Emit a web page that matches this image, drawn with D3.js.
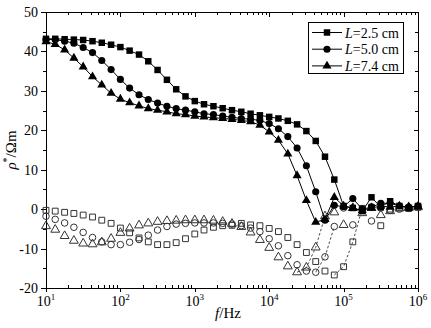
<!DOCTYPE html>
<html>
<head>
<meta charset="utf-8">
<script src="https://cdn.jsdelivr.net/npm/d3@7"></script>
<style>
  html, body { margin: 0; padding: 0; background: #fff; }
  svg { display: block; font-family: "Liberation Serif", "DejaVu Serif", serif; }
</style>
</head>
<body>
<div id="chart"></div>
<script>
// frequencies (Hz), 8 points per decade
const freqs = [10, 13.3, 17.8, 23.7, 31.6, 42.2, 56.2, 75, 100, 133, 178, 237, 316, 422, 562, 750,
  1e3, 1330, 1780, 2370, 3160, 4220, 5620, 7500, 1e4, 13300, 17800, 23700, 31600, 42200, 56200, 75000,
  1e5, 133000, 178000, 237000, 316000, 422000, 562000, 750000, 1e6];

// filled markers (real part)
const real25 = [43.2, 43.2, 43.1, 43.0, 42.9, 42.6, 42.2, 41.7, 41.1, 40.2, 39.2, 37.5, 35.3, 32.8, 30.4, 28.6, 27.4, 26.6, 26.1,
  25.6, 25.1, 24.7, 24.2, 23.8, 23.4, 23.0, 22.4, 21.5, 19.8, 17.3, 13.3, 7.5,
  0.8, 0.3, -0.5, 3.0, 0.5, 2.0, 0.8, 0.3, 0.8];
const real50 = [43.0, 43.0, 42.6, 42.1, 41.0, 39.7, 37.7, 35.4, 32.9, 30.7, 29.0, 27.8, 26.9, 26.1, 25.5, 25.1, 24.7, 24.2, 24.0,
  23.6, 23.3, 23.0, 22.8, 22.5, 21.7, 20.4, 18.4, 15.5, 11.0, 4.4, -2.8, 1.0,
  0.6, 2.7, 0.0, 0.5, 1.5, 1.5, 0.8, 0.5, 0.8];
const real74 = [42.5, 41.8, 40.4, 38.3, 36.1, 33.6, 31.5, 29.4, 27.9, 27.0, 26.2, 25.5, 25.1, 24.7, 24.2, 24.0, 23.6, 23.4, 23.2,
  23.0, 22.8, 22.5, 22.2, 21.3, 19.6, 17.5, 14.0, 8.5, 2.2, -3.3, -2.6, 3.0,
  0.8, 0.2, -0.3, 0.3, 0.8, 0.5, 0.8, 0.6, 0.7];

// open markers (imaginary part)
const imag25 = [-0.3, -0.5, -0.8, -1.1, -1.5, -2.0, -2.8, -3.6, -4.8, -6.0, -7.3, -8.3, -9.0, -9.0, -8.5, -7.5, -6.3, -5.3, -4.6, -4.2, -4.1,
  -3.6, -4.0, -4.2, -4.9, -5.7, -7.2, -9.0, -11.0, -13.3, -15.7, -16.7, -14.6, -8.3, 0.2, 0.5, -4.2, 0.0, 0.3, 0.2, 0.5];
const imag50 = [-1.8, -2.6, -3.5, -4.6, -5.9, -7.2, -8.3, -9.0, -9.0, -8.4, -7.7, -6.6, -5.3, -4.4, -3.8, -3.6, -3.5, -3.5, -3.5, -3.6, -3.8,
  -4.2, -4.8, -5.7, -7.5, -9.3, -11.8, -14.1, -15.7, -16.0, -12.1, -4.4, 0.3, -4.0, 0.0, -3.0, 0.3, -0.3, 0.0, 0.2, 0.5];
const imag74 = [-4.3, -5.2, -6.8, -8.0, -8.7, -8.9, -8.4, -7.5, -6.0, -4.9, -4.1, -3.6, -3.2, -3.0, -2.9, -2.8, -2.8, -2.8, -2.9, -3.2, -3.7,
  -4.5, -5.9, -7.8, -9.8, -12.2, -14.5, -16.0, -14.8, -9.7, -1.8, -0.8, -4.0, 0.3, -1.0, 0.3, -1.5, -0.5, 0.2, 0.3, 0.5];

// index range of the dashed connectors on the open series
const dash25 = [31, 34];
const dash50 = [29, 31];
const dash74 = [27, 30];

const legendLabels = ["=2.5 cm", "=5.0 cm", "=7.4 cm"];
const yTicks = [50, 40, 30, 20, 10, 0, -10, -20];
const xDecades = [1, 2, 3, 4, 5, 6];

const W = 431, H = 328;
const m = { left: 46, right: 13, top: 12, bottom: 40 };

const svg = d3.select("#chart").append("svg").attr("width", W).attr("height", H);

const x = d3.scaleLog().domain([10, 1e6]).range([m.left, W - m.right]);
const y = d3.scaleLinear().domain([-20, 50]).range([H - m.bottom, m.top]);

const x0 = m.left, x1 = W - m.right, y0 = H - m.bottom, y1 = m.top;

// ticks
const tickG = svg.append("g").attr("stroke", "#000").attr("stroke-width", 1);
const minorX = [];
for (let d = 1; d < 6; d++) {
  for (let k = 2; k <= 9; k++) minorX.push(k * Math.pow(10, d));
}
for (const v of xDecades.map((d) => Math.pow(10, d))) {
  const px = Math.round(x(v)) + 0.5;
  tickG.append("line").attr("x1", px).attr("x2", px).attr("y1", y0).attr("y2", y0 + 4);
  tickG.append("line").attr("x1", px).attr("x2", px).attr("y1", y1).attr("y2", y1 + 5);
}
for (const v of minorX) {
  const px = Math.round(x(v)) + 0.5;
  tickG.append("line").attr("x1", px).attr("x2", px).attr("y1", y0).attr("y2", y0 - 3);
  tickG.append("line").attr("x1", px).attr("x2", px).attr("y1", y1).attr("y2", y1 + 3);
}
for (const v of d3.range(-20, 51, 5)) {
  const py = Math.round(y(v)) + 0.5;
  const major = v % 10 === 0;
  tickG.append("line").attr("x1", x0).attr("x2", x0 - (major ? 5 : 3)).attr("y1", py).attr("y2", py);
  tickG.append("line").attr("x1", x1).attr("x2", x1 - (major ? 4 : 3)).attr("y1", py).attr("y2", py);
}

// frame
svg.append("rect")
  .attr("x", x0 + 0.5).attr("y", y1 + 0.5)
  .attr("width", x1 - x0).attr("height", y0 - y1)
  .attr("fill", "none").attr("stroke", "#000").attr("stroke-width", 1);

// tick labels
svg.append("g").selectAll("text").data(yTicks).join("text")
  .attr("x", x0 - 8).attr("y", (d) => y(d) + 5)
  .attr("text-anchor", "end").attr("font-size", 14)
  .text((d) => d);

const xl = svg.append("g").selectAll("text").data(xDecades).join("text")
  .attr("x", (d) => x(Math.pow(10, d))).attr("y", y0 + 18)
  .attr("text-anchor", "middle").attr("font-size", 14);
xl.append("tspan").text("10");
xl.append("tspan").attr("font-size", 9).attr("dy", -6).text((d) => d);

// axis titles
const xt = svg.append("text").attr("x", 228).attr("y", 318).attr("text-anchor", "middle").attr("font-size", 15);
xt.append("tspan").attr("font-style", "italic").text("f");
xt.append("tspan").text("/Hz");

const yt = svg.append("text").attr("transform", `translate(16,${(y0 + y1) / 2}) rotate(-90)`)
  .attr("text-anchor", "middle").attr("font-size", 15);
yt.append("tspan").attr("font-style", "italic").text("ρ");
yt.append("tspan").attr("font-size", 10).attr("dy", -6).text("*");
yt.append("tspan").attr("dy", 6).text("/Ωm");

// series
const sym = {
  square: d3.symbol().type(d3.symbolSquare).size(42),
  circle: d3.symbol().type(d3.symbolCircle).size(40),
  triangle: d3.symbol().type(d3.symbolTriangle).size(36),
};
const openSym = {
  square: d3.symbol().type(d3.symbolSquare).size(34),
  circle: d3.symbol().type(d3.symbolCircle).size(34),
  triangle: d3.symbol().type(d3.symbolTriangle).size(34),
};

const line = d3.line().x((d) => x(d[0])).y((d) => y(d[1]));
const zip = (vals) => vals.map((v, i) => [freqs[i], v]);

const plot = svg.append("g");

const openSeries = [
  { vals: imag25, shape: "square", dash: dash25 },
  { vals: imag50, shape: "circle", dash: dash50 },
  { vals: imag74, shape: "triangle", dash: dash74 },
];
for (const s of openSeries) {
  const pts = zip(s.vals);
  plot.append("path").datum(pts.slice(s.dash[0], s.dash[1] + 1))
    .attr("d", line).attr("fill", "none").attr("stroke", "#333")
    .attr("stroke-width", 0.9).attr("stroke-dasharray", "2.5,2");
}
for (const s of openSeries) {
  plot.append("g").selectAll("path").data(zip(s.vals)).join("path")
    .attr("transform", (d) => `translate(${x(d[0])},${y(d[1])})`)
    .attr("d", openSym[s.shape]())
    .attr("fill", "none").attr("stroke", "#333").attr("stroke-width", 1);
}

const filledSeries = [
  { vals: real25, shape: "square" },
  { vals: real50, shape: "circle" },
  { vals: real74, shape: "triangle" },
];
for (const s of filledSeries) {
  plot.append("path").datum(zip(s.vals))
    .attr("d", line).attr("fill", "none").attr("stroke", "#000").attr("stroke-width", 1);
  plot.append("g").selectAll("path").data(zip(s.vals)).join("path")
    .attr("transform", (d) => `translate(${x(d[0])},${y(d[1])})`)
    .attr("d", sym[s.shape]())
    .attr("fill", "#000");
}

// legend
const lg = svg.append("g");
lg.append("rect").attr("x", 308.5).attr("y", 22.5).attr("width", 95).attr("height", 51)
  .attr("fill", "#fff").attr("stroke", "#000").attr("stroke-width", 1);
filledSeries.forEach((s, i) => {
  const cy = 32.5 + i * 16.7;
  lg.append("line").attr("x1", 312).attr("x2", 342).attr("y1", cy).attr("y2", cy)
    .attr("stroke", "#000").attr("stroke-width", 1);
  lg.append("path").attr("transform", `translate(327,${cy})`).attr("d", sym[s.shape]()).attr("fill", "#000");
  const t = lg.append("text").attr("x", 345).attr("y", cy + 5).attr("font-size", 14);
  t.append("tspan").attr("font-style", "italic").text("L");
  t.append("tspan").text(legendLabels[i]);
});
</script>
</body>
</html>
